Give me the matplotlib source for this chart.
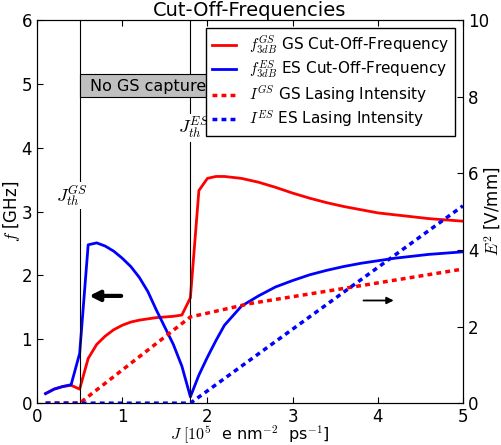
import matplotlib
matplotlib.use("Agg")
import matplotlib.pyplot as plt
from matplotlib.patches import Rectangle

# Stromdichte-Gitter fuer die Grenzfrequenzen
J = [0.1, 0.2, 0.3, 0.4, 0.5, 0.6, 0.7, 0.8, 0.9, 1.0, 1.1, 1.2, 1.3, 1.4, 1.5, 1.6, 1.7, 1.8,
     1.9, 2.0, 2.1, 2.2, 2.4, 2.6, 2.8, 3.0, 3.2, 3.4, 3.6, 3.8, 4.0, 4.2, 4.4, 4.6, 4.8, 5.0]
f_gs = [0.15, 0.22, 0.26, 0.28, 0.22, 0.70, 0.92, 1.05, 1.15, 1.22, 1.27, 1.30, 1.32, 1.34, 1.35,
        1.36, 1.38, 1.65, 3.33, 3.52, 3.55, 3.55, 3.52, 3.46, 3.38, 3.29, 3.21, 3.14, 3.08, 3.03,
        2.98, 2.95, 2.92, 2.89, 2.87, 2.85]
f_es = [0.15, 0.22, 0.26, 0.29, 0.78, 2.48, 2.51, 2.46, 2.38, 2.27, 2.14, 1.97, 1.75, 1.46, 1.19,
        0.92, 0.58, 0.10, 0.44, 0.72, 0.98, 1.22, 1.52, 1.68, 1.82, 1.92, 2.01, 2.08, 2.14, 2.19,
        2.23, 2.27, 2.30, 2.33, 2.35, 2.37]

# Lasing-Intensitaeten (rechte Achse)
J_int_gs = [0.1, 0.5, 1.8, 2.5, 3.7, 5.0]
I_gs = [0.0, 0.0, 2.25, 2.6, 3.03, 3.5]
J_int_es = [0.1, 1.8, 5.0]
I_es = [0.0, 0.0, 5.15]

J_th_gs = 0.5
J_th_es = 1.8

plt.rcParams['mathtext.fontset'] = 'cm'
plt.rcParams['xtick.direction'] = 'in'
plt.rcParams['ytick.direction'] = 'in'
plt.rcParams['font.size'] = 12

fig = plt.figure(figsize=(5.01, 4.45), dpi=100)
ax = fig.add_axes([0.074, 0.094, 0.850, 0.861])
ax2 = ax.twinx()

l1, = ax.plot(J, f_gs, color='r', lw=2, label=r'$f_{3dB}^{GS}$ GS Cut-Off-Frequency')
l2, = ax.plot(J, f_es, color='b', lw=2, label=r'$f_{3dB}^{ES}$ ES Cut-Off-Frequency')
l3, = ax2.plot(J_int_gs, I_gs, color='r', lw=2.5, dashes=(1.4, 1.2), label=r'$I^{GS}$ GS Lasing Intensity')
l4, = ax2.plot(J_int_es, I_es, color='b', lw=2.5, dashes=(1.4, 1.2), label=r'$I^{ES}$ ES Lasing Intensity')

# Schwellen
ax.axvline(J_th_gs, color='k', lw=0.8)
ax.axvline(J_th_es, color='k', lw=0.8)
ax.text(J_th_gs - 0.09, 3.25, r'$J_{th}^{GS}$', ha='center', va='center', fontsize=13,
        bbox=dict(facecolor='white', edgecolor='none', pad=1))
ax.text(J_th_es + 0.04, 4.31, r'$J_{th}^{ES}$', ha='center', va='center', fontsize=13,
        bbox=dict(facecolor='white', edgecolor='none', pad=1))

ax.add_patch(Rectangle((0.5, 4.8), 1.5, 0.35, facecolor='0.75', edgecolor='k', lw=0.8, zorder=3))
ax.text(1.3, 4.96, 'No GS capture', ha='center', va='center', fontsize=11.5, zorder=4)

# Pfeile fuer die Achsenzuordnung
ax.annotate('', xy=(0.58, 1.68), xytext=(1.02, 1.68),
            arrowprops=dict(arrowstyle='-|>', lw=3, color='k', mutation_scale=15))
ax2.annotate('', xy=(4.22, 2.68), xytext=(3.8, 2.68),
             arrowprops=dict(arrowstyle='-|>', lw=1.3, color='k', mutation_scale=10))

ax.set_xlim(0, 5)
ax.set_ylim(0, 6)
ax2.set_ylim(0, 10)
ax.set_xticks([0, 1, 2, 3, 4, 5])
ax2.set_yticks([0, 2, 4, 6, 8, 10])
ax.tick_params(top=True, length=4)
ax2.tick_params(length=4)

ax.set_title('Cut-Off-Frequencies', fontsize=14, pad=2)
ax.set_xlabel(r'$J\ [10^5$  e nm$^{-2}$  ps$^{-1}$]', fontsize=11.5)
ax.set_ylabel(r'$f$ [GHz]', fontsize=12)
ax2.set_ylabel(r'$E^2$ [V/mm]', fontsize=12)
ax.xaxis.set_label_coords(0.5, -0.053)
ax.yaxis.set_label_coords(-0.035, 0.5)
ax2.yaxis.set_label_coords(1.046, 0.5)

leg = ax2.legend(handles=[l1, l2, l3, l4], loc='upper right', fontsize=11,
                 fancybox=False, framealpha=1, handlelength=1.6, handletextpad=0.8,
                 labelspacing=0.2, borderaxespad=0.5)
leg.get_frame().set_edgecolor('k')

fig.savefig('out.png', dpi=100, facecolor='white')
